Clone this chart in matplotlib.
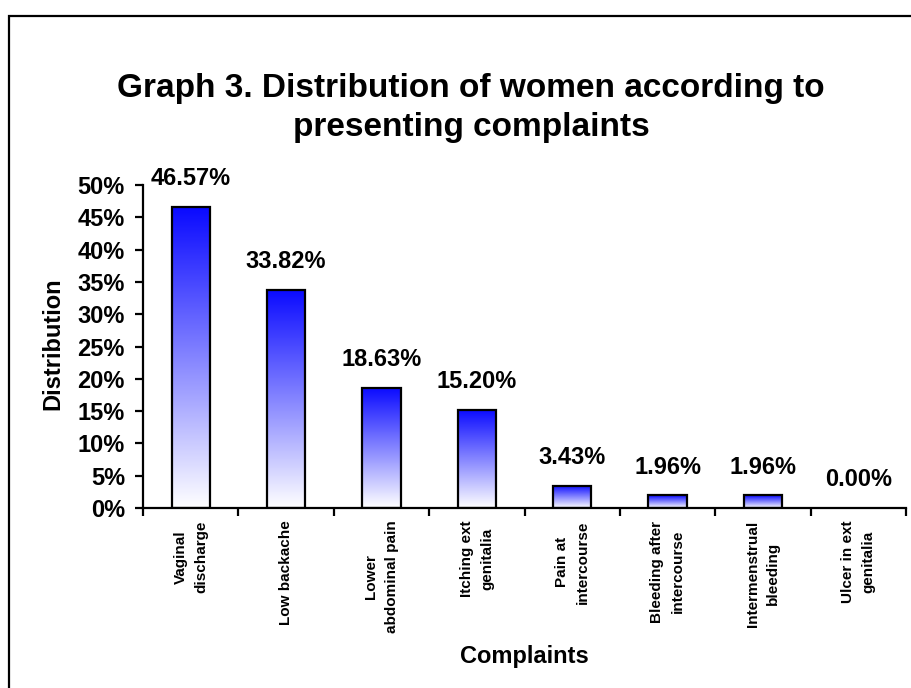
import numpy as np
import matplotlib
matplotlib.use("Agg")
import matplotlib.pyplot as plt
from matplotlib.colors import LinearSegmentedColormap
from matplotlib.patches import Rectangle
from matplotlib.ticker import FuncFormatter

complaints = [
    "Vaginal\ndischarge", "Low backache", "Lower\nabdominal pain", "Itching ext\ngenitalia",
    "Pain at\nintercourse", "Bleeding after\nintercourse", "Intermenstrual\nbleeding",
    "Ulcer in ext\ngenitalia",
]
share = [46.57, 33.82, 18.63, 15.20, 3.43, 1.96, 1.96, 0.00]  # percent of women
yticks = [0, 5, 10, 15, 20, 25, 30, 35, 40, 45, 50]

plt.rcParams["font.family"] = ["Liberation Sans", "DejaVu Sans"]
plt.rcParams["font.weight"] = "bold"

fig = plt.figure(figsize=(9.11, 6.88), dpi=100)
ax = fig.add_axes([0.157, 0.2616, 0.8375, 0.4695])

# outer frame around the chart area
fig.patches.append(Rectangle((9 / 911, -0.05), 1.0, 1 - 16 / 688 + 0.05, transform=fig.transFigure,
                             fill=False, lw=1.6, ec="black", clip_on=False))

# blue-to-white vertical fill for each bar
cmap = LinearSegmentedColormap.from_list("blu", ["#ffffff", "#0a0aff"])
grad = np.linspace(0, 1, 256).reshape(-1, 1)
w = 0.4
x = np.arange(len(share))
for xi, v in zip(x, share):
    if v <= 0:
        continue
    im = ax.imshow(grad, cmap=cmap, origin="lower", aspect="auto",
                   extent=(xi - w / 2, xi + w / 2, 0, v), zorder=2)
    rect = Rectangle((xi - w / 2, 0), w, v, fill=False, ec="black", lw=1.6, zorder=3)
    ax.add_patch(rect)
    im.set_clip_path(rect)
for xi, v in zip(x, share):
    ax.annotate(f"{v:.2f}%", (xi, v), xytext=(0, 12), textcoords="offset points",
                ha="center", va="bottom", fontsize=17, fontweight="bold")

ax.set_xlim(-0.5, len(share) - 0.5)
ax.set_ylim(0, 50)
ax.set_yticks(yticks)
ax.yaxis.set_major_formatter(FuncFormatter(lambda v, _: f"{v:.0f}%"))
ax.tick_params(axis="y", labelsize=17, width=1.6, length=6, direction="out", pad=7)
ax.set_xticks(np.arange(len(share) + 1) - 0.5)
ax.set_xticklabels([])
ax.set_xticks(x, minor=True)
ax.set_xticklabels(complaints, minor=True, rotation=90, fontsize=11, fontweight="bold",
                   ha="center", va="top", multialignment="center", linespacing=1.6)
ax.tick_params(axis="x", which="major", width=1.6, length=6, direction="out")
ax.tick_params(axis="x", which="minor", length=0, pad=9)
for s in ("top", "right"):
    ax.spines[s].set_visible(False)
for s in ("left", "bottom"):
    ax.spines[s].set_linewidth(1.6)

fig.text(53 / 911, 1 - 344 / 688, "Distribution", rotation=90, ha="center", va="center",
         fontsize=17, fontweight="bold")
fig.text(524 / 911, 1 - 656 / 688, "Complaints", ha="center", va="center",
         fontsize=17, fontweight="bold")
fig.text(471 / 911, 1 - 108 / 688, "Graph 3. Distribution of women according to\npresenting complaints",
         ha="center", va="center", fontsize=24, fontweight="bold", linespacing=1.3)

fig.savefig("out.png", dpi=100)
